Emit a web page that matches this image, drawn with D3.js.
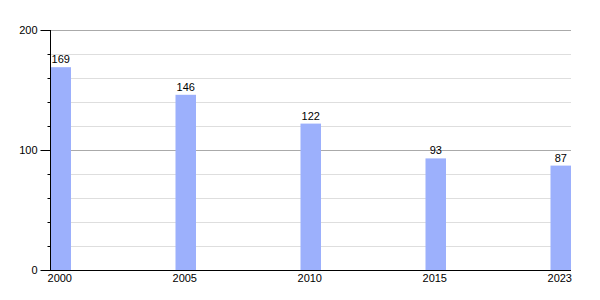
<!DOCTYPE html>
<html>
<head>
<meta charset="utf-8">
<script src="https://cdn.jsdelivr.net/npm/d3@7"></script>
<style>
  body { margin: 0; background: #fff; }
  svg text { font-family: "Liberation Sans", Arial, sans-serif; font-size: 11px; fill: #000; }
</style>
</head>
<body>
<svg width="600" height="300"></svg>
<script>
// data
const years = ["2000", "2005", "2010", "2015", "2023"]
const values = [169, 146, 122, 93, 87]
const majorTicks = [0, 100, 200]
const minorTicks = [20, 40, 60, 80, 120, 140, 160, 180]

const svg = d3.select("svg")
const plotLeft = 50, plotRight = 571, plotTop = 30, plotBottom = 270
const barW = 20.5

const x = d3.scalePoint().domain(years).range([plotLeft, 550])
const y = d3.scaleLinear().domain([0, 200]).range([plotBottom, plotTop])

// grid
svg.append("g").selectAll("line")
  .data(minorTicks)
  .enter().append("line")
  .attr("x1", plotLeft).attr("x2", plotRight)
  .attr("y1", d => y(d) + 0.5).attr("y2", d => y(d) + 0.5)
  .style("stroke", "#dedede")
svg.append("g").selectAll("line")
  .data(majorTicks.filter(d => d > 0))
  .enter().append("line")
  .attr("x1", plotLeft).attr("x2", plotRight)
  .attr("y1", d => y(d) + 0.5).attr("y2", d => y(d) + 0.5)
  .style("stroke", "#aaaaaa")

// bars
svg.append("g").selectAll("rect")
  .data(values)
  .enter().append("rect")
  .attr("x", (d, i) => x(years[i]) + 0.5)
  .attr("y", d => y(d))
  .attr("width", barW)
  .attr("height", d => plotBottom - y(d))
  .style("fill", "#9cb0fc")

// value labels
svg.append("g").selectAll("text")
  .data(values)
  .enter().append("text")
  .attr("x", (d, i) => x(years[i]) + 0.5 + barW / 2)
  .attr("y", d => y(d) - 4)
  .attr("text-anchor", "middle")
  .text(d => d)

// y axis, minor ticks then major
const yMinor = svg.append("g")
  .attr("transform", "translate(" + (plotLeft + 0.5) + ",0)")
  .call(d3.axisLeft(y).tickValues(minorTicks).tickSize(3).tickFormat(""))
yMinor.select(".domain").remove()
const yAxis = svg.append("g")
  .attr("transform", "translate(" + (plotLeft + 0.5) + ",0)")
  .call(d3.axisLeft(y).tickValues(majorTicks).tickSize(10).tickSizeOuter(0).tickPadding(3))
yAxis.select(".domain").remove()
yAxis.selectAll("text").style("font-size", "11px").style("font-family", "inherit")
svg.append("line")
  .attr("x1", plotLeft + 0.5).attr("x2", plotLeft + 0.5)
  .attr("y1", plotTop).attr("y2", plotBottom)
  .style("stroke", "#000")

// x axis
const xAxis = svg.append("g")
  .attr("transform", "translate(" + (0.5 + barW / 2 - 1.5) + "," + plotBottom + ")")
  .call(d3.axisBottom(x).tickSize(0).tickPadding(4))
xAxis.select(".domain").remove()
xAxis.selectAll("text").style("font-size", "11px").style("font-family", "inherit")
svg.append("line")
  .attr("x1", plotLeft).attr("x2", plotRight)
  .attr("y1", plotBottom + 0.5).attr("y2", plotBottom + 0.5)
  .style("stroke", "#000")
</script>
</body>
</html>
